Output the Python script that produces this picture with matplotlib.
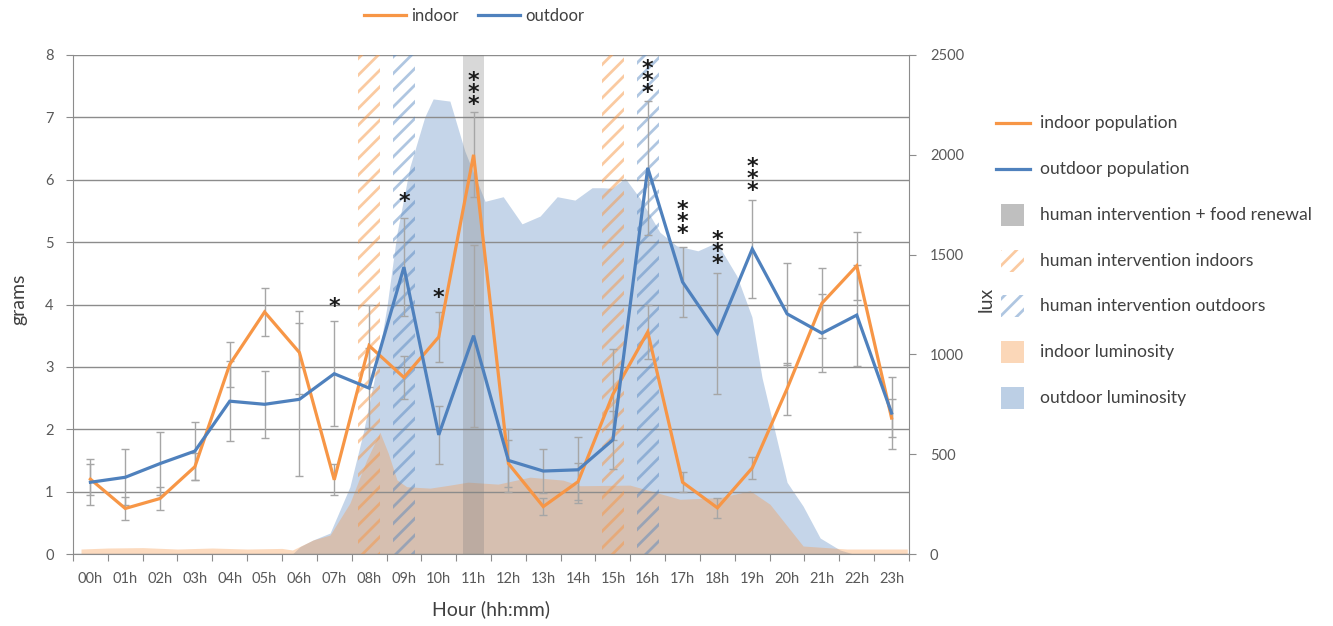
import numpy as np
import matplotlib
matplotlib.use("Agg")
import matplotlib.pyplot as plt
from matplotlib.transforms import offset_copy
from matplotlib.patches import Rectangle
from matplotlib.lines import Line2D

# ---------------- data ----------------
hours = ["%02dh" % h for h in range(24)]

indoor = [1.20, 0.73, 0.89, 1.40, 3.04, 3.88, 3.23, 1.19, 3.34, 2.83, 3.48, 6.40,
          1.45, 0.76, 1.16, 2.56, 3.56, 1.15, 0.74, 1.38, 2.65, 4.02, 4.62, 2.18]
indoor_err = [0.25, 0.19, 0.18, 0.22, 0.36, 0.39, 0.66, 0.25, 0.66, 0.34, 0.40, 0.68,
              0.38, 0.13, 0.30, 0.73, 0.43, 0.16, 0.16, 0.17, 0.42, 0.56, 0.54, 0.30]
outdoor = [1.15, 1.23, 1.45, 1.65, 2.45, 2.40, 2.48, 2.89, 2.66, 4.60, 1.91, 3.50,
           1.50, 1.33, 1.35, 1.83, 6.19, 4.36, 3.54, 4.89, 3.85, 3.54, 3.83, 2.26]
outdoor_err = [0.37, 0.45, 0.51, 0.46, 0.64, 0.54, 1.23, 0.84, 0.64, 0.79, 0.46, 1.46,
               0.51, 0.35, 0.53, 0.46, 1.08, 0.56, 0.97, 0.79, 0.82, 0.63, 0.81, 0.58]

# luminosity (time of day in hours, lux)
out_lux_t = [0, 6.3, 6.52, 6.89, 7.38, 7.95, 8.33, 8.72, 9.01, 9.3, 9.67, 10.1, 10.34,
             10.82, 11.25, 11.83, 12.35, 12.89, 13.41, 13.9, 14.41, 14.9, 15.22, 15.47,
             15.85, 16.28, 16.85, 17.33, 17.94, 18.48, 19.06, 19.49, 19.78, 20.5, 20.96,
             21.45, 22.02, 22.4, 24]
out_lux = [0, 0, 37, 70, 105, 337, 606, 937, 1237, 1606, 1939, 2190, 2280,
           2269, 2018, 1767, 1790, 1654, 1693, 1790, 1773, 1835, 1835, 1832,
           1883, 1781, 1612, 1544, 1519, 1561, 1392, 1188, 884, 359, 240,
           80, 20, 0, 0]
in_lux_t = [0.23, 1.0, 2.0, 3.0, 4.0, 5.0, 6.0, 6.3, 6.89, 7.38, 7.95, 8.43, 8.81, 9.05,
            9.3, 9.58, 10.25, 10.82, 11.34, 12.2, 13.12, 14.07, 14.56, 15.99, 16.5,
            17.43, 18.58, 19.44, 20.01, 20.96, 22.22, 23.95]
in_lux = [25, 30, 32, 25, 30, 25, 28, 20, 70, 95, 255, 471, 610, 505,
          371, 337, 330, 345, 360, 350, 385, 370, 342, 345, 320,
          274, 283, 317, 249, 40, 25, 25]

indoor_interv = [8, 15]
outdoor_interv = [9, 16]
food_renewal = [11]

star_hours = [7, 9, 10, 11, 16, 17, 18, 19]
star_y = [4.07, 5.76, 4.21, 7.50, 7.70, 5.43, 4.96, 6.13]
star_n = [1, 1, 1, 3, 3, 3, 3, 3]

# ---------------- style ----------------
plt.rcParams['font.family'] = ['Lato', 'DejaVu Sans']
plt.rcParams['hatch.linewidth'] = 2.0

ORANGE = '#F79646'
BLUE = '#4F81BD'
GRID = '#8C8C8C'
TXT = '#595959'

W, H = 1333, 626
fig = plt.figure(figsize=(W / 100, H / 100), dpi=100)
L, R, B, T = 73, 909, 554, 55
rect = [L / W, 1 - B / H, (R - L) / W, (B - T) / H]
ax = fig.add_axes(rect)
ax2 = ax.twinx()
ax.set_zorder(ax2.get_zorder() + 1)
ax.patch.set_visible(False)

x = np.arange(24)

# luminosity areas (secondary axis)
ax2.fill_between(np.array(out_lux_t) - 0.5, 0, out_lux, color=BLUE, alpha=0.33, lw=0)
ax2.fill_between(np.array(in_lux_t) - 0.5, 0, in_lux, color=ORANGE, alpha=0.35, lw=0)
ax2.set_ylim(0, 2500)
ax2.set_yticks(np.arange(0, 2501, 500))
ax2.tick_params(axis='y', direction='out', length=5, color=GRID, labelcolor=TXT,
                labelsize=10.5, pad=10)
for s in ['left', 'top', 'bottom']:
    ax2.spines[s].set_visible(False)
ax2.spines['right'].set_color(GRID)
ax2.set_ylabel('lux', fontsize=14, color='#404040')
ax2.yaxis.set_label_coords((978 - L) / (R - L), 0.51)

# bands
for h in indoor_interv:
    ax.axvspan(h - 0.32, h + 0.32, facecolor='none', edgecolor=(0.97, 0.59, 0.27, 0.5),
               hatch='//', lw=0, zorder=1)
for h in outdoor_interv:
    ax.axvspan(h - 0.32, h + 0.32, facecolor='none', edgecolor=(0.31, 0.51, 0.74, 0.45),
               hatch='//', lw=0, zorder=1)
for h in food_renewal:
    ax.axvspan(h - 0.3, h + 0.3, color='#808080', alpha=0.3, lw=0, zorder=1)

# error bars and lines
ax.errorbar(x, indoor, yerr=indoor_err, fmt='none', ecolor='#A6A6A6', elinewidth=1,
            capsize=3.2, capthick=1, zorder=2)
ax.errorbar(x, outdoor, yerr=outdoor_err, fmt='none', ecolor='#A6A6A6', elinewidth=1,
            capsize=3.2, capthick=1, zorder=2)
ax.plot(x, indoor, color=ORANGE, lw=2.3, zorder=3, solid_joinstyle='miter', label='indoor')
ax.plot(x, outdoor, color=BLUE, lw=2.3, zorder=3, solid_joinstyle='miter', label='outdoor')

# significance stars (one text per hour, stacked vertically)
sfs = 16
tr = offset_copy(ax.transData, fig=fig, x=0, y=-0.31 * sfs, units='points')
for h, yc, n in zip(star_hours, star_y, star_n):
    ax.text(h, yc, '\n'.join(['*'] * n), transform=tr, ha='center', va='center',
            fontsize=sfs, family='DejaVu Sans', fontweight='bold', linespacing=0.5,
            color='#1a1a1a', zorder=4)

ax.set_xlim(-0.5, 23.5)
ax.set_ylim(0, 8)
ax.set_yticks(np.arange(0, 9, 1))
ax.yaxis.grid(True, color=GRID, lw=1)
ax.set_axisbelow(True)
ax.set_xticks(np.arange(-0.5, 24, 1))
ax.set_xticklabels([])
ax.set_xticks(x, labels=hours, minor=True)
ax.tick_params(axis='x', which='major', direction='out', length=5, color=GRID)
ax.tick_params(axis='x', which='minor', length=0, pad=13, labelsize=10.5, labelcolor=TXT)
ax.tick_params(axis='y', direction='out', length=5, color=GRID, labelsize=10.5,
               labelcolor=TXT, pad=9)
for s in ['top', 'right']:
    ax.spines[s].set_visible(False)
for s in ['left', 'bottom']:
    ax.spines[s].set_color(GRID)
ax.set_ylabel('grams', fontsize=14, color='#404040')
ax.yaxis.set_label_coords((27 - L) / (R - L), 0.51)
ax.set_xlabel('Hour (hh:mm)', fontsize=14, color='#404040')
ax.xaxis.set_label_coords(0.5, (B - 600) / (B - T))

# top legend
fig.legend(handles=[Line2D([], [], color=ORANGE, lw=2.3), Line2D([], [], color=BLUE, lw=2.3)],
           labels=['indoor', 'outdoor'], loc='center', bbox_to_anchor=(474 / W, 1 - 16 / H),
           ncol=2, frameon=False, fontsize=12, handlelength=2.5, handletextpad=0.3,
           columnspacing=1.2, labelcolor='#404040')

# right legend (drawn manually)
def fx(px):
    return px / W

def fy(py):
    return 1 - py / H

entries_y = [123, 169, 215, 261, 306, 352, 398]
labels = ['indoor population', 'outdoor population', 'human intervention + food renewal',
          'human intervention indoors', 'human intervention outdoors',
          'indoor luminosity', 'outdoor luminosity']
for i, (yy, lab) in enumerate(zip(entries_y, labels)):
    if i < 2:
        fig.add_artist(Line2D([fx(996), fx(1030)], [fy(yy), fy(yy)], transform=fig.transFigure,
                              color=[ORANGE, BLUE][i], lw=2.3))
    else:
        if i == 2:
            kw = dict(facecolor='#BFBFBF', edgecolor='none')
        elif i == 3:
            kw = dict(facecolor='none', edgecolor=(0.97, 0.59, 0.27, 0.5), hatch='//', lw=0)
        elif i == 4:
            kw = dict(facecolor='none', edgecolor=(0.31, 0.51, 0.74, 0.45), hatch='//', lw=0)
        elif i == 5:
            kw = dict(facecolor=ORANGE, alpha=0.38, edgecolor='none')
        else:
            kw = dict(facecolor=BLUE, alpha=0.38, edgecolor='none')
        fig.add_artist(Rectangle((fx(1001), fy(yy + 11)), fx(1024) - fx(1001), 22 / H,
                                 transform=fig.transFigure, **kw))
    fig.text(fx(1040), fy(yy), lab, ha='left', va='center', fontsize=12.6, color='#404040')

fig.savefig('out.png', dpi=100)
